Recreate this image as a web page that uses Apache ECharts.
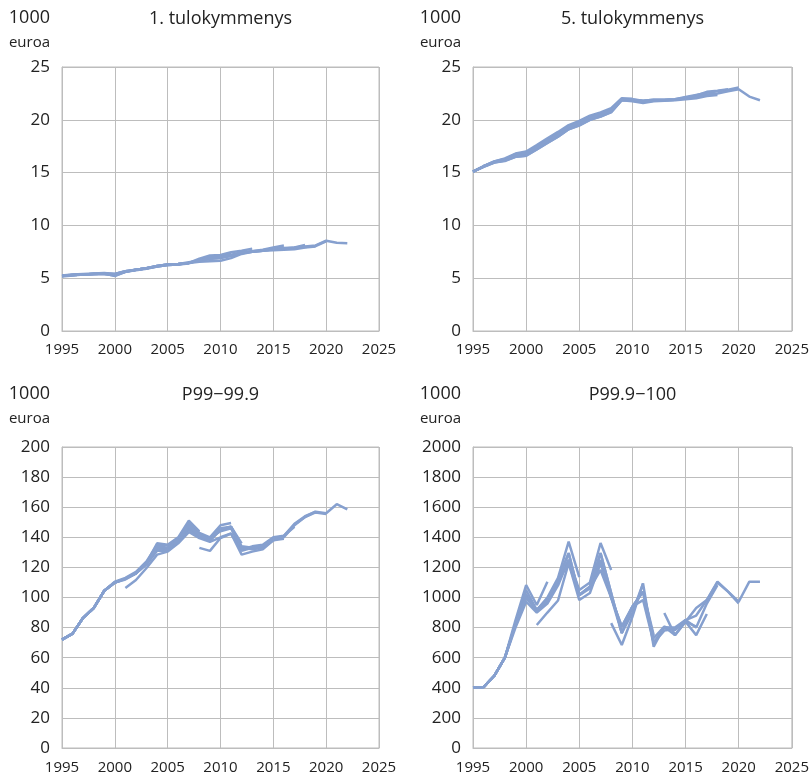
<!DOCTYPE html>
<html>
<head>
<meta charset="utf-8">
<script src="https://cdn.jsdelivr.net/npm/echarts@6/dist/echarts.min.js"></script>
<style>
  html, body { margin: 0; padding: 0; background: #fff; }
  #chart { width: 812px; height: 776px; }
</style>
</head>
<body>
<div id="chart"></div>
<script>
  // each panel: vintages of the same statistic, start year + yearly values
  const panelTitles = ['1. tulokymmenys', '5. tulokymmenys', 'P99\u221299.9', 'P99.9\u2212100'];
  const xTicks = [1995, 2000, 2005, 2010, 2015, 2020, 2025];
  const yMax = [25, 25, 200, 2000];
  const yStep = [5, 5, 20, 200];

  const decile1Starts = [1995, 1995, 1995, 1995, 1995, 1995, 1995];
  const decile1Values = [
    [5.2, 5.3, 5.35, 5.4, 5.4, 5.35, 5.6, 5.8, 5.95, 6.15, 6.3, 6.35, 6.45, 6.75, 7.05, 7.15, 7.35],
    [5.15, 5.25, 5.35, 5.4, 5.4, 5.25, 5.6, 5.8, 5.95, 6.1, 6.25, 6.3, 6.45, 6.85, 7.15, 7.2, 7.45, 7.6, 7.8],
    [5.2, 5.3, 5.35, 5.4, 5.45, 5.2, 5.6, 5.75, 5.9, 6.1, 6.25, 6.3, 6.4, 6.75, 7.0, 6.95, 7.2, 7.4, 7.55, 7.7, 7.9, 8.1],
    [5.25, 5.35, 5.4, 5.45, 5.5, 5.4, 5.65, 5.8, 5.95, 6.15, 6.3, 6.35, 6.5, 6.65, 6.85, 6.9, 7.1, 7.35, 7.5, 7.6, 7.75, 7.8, 7.9, 8.15],
    [5.25, 5.3, 5.35, 5.4, 5.45, 5.4, 5.65, 5.8, 5.95, 6.15, 6.3, 6.35, 6.45, 6.55, 6.6, 6.65, 6.9, 7.3, 7.5, 7.6, 7.65, 7.7, 7.75, 7.9, 8.0],
    [5.2, 5.3, 5.35, 5.4, 5.4, 5.35, 5.6, 5.8, 5.95, 6.1, 6.25, 6.3, 6.45, 6.65, 6.85, 6.95, 7.15, 7.4, 7.5, 7.6, 7.75, 7.8, 7.85, 7.95, 8.05, 8.5],
    [5.25, 5.3, 5.35, 5.4, 5.45, 5.4, 5.65, 5.8, 5.95, 6.15, 6.3, 6.35, 6.45, 6.7, 6.9, 7.0, 7.2, 7.45, 7.55, 7.65, 7.8, 7.85, 7.9, 8.0, 8.1, 8.55, 8.35, 8.3]
  ];

  const decile5Starts = [1995, 1995, 1995, 1995, 1995, 1995, 1995];
  const decile5Values = [
    [15.1, 15.6, 16.05, 16.35, 16.8, 17.0, 17.6, 18.25, 18.85, 19.5, 19.9, 20.4, 20.7, 21.1, 22.05, 22.0],
    [15.1, 15.55, 15.95, 16.15, 16.5, 16.6, 17.2, 17.8, 18.4, 19.1, 19.5, 20.0, 20.3, 20.7, 21.85, 21.75, 21.6, 21.75, 21.8],
    [15.1, 15.6, 16.0, 16.25, 16.75, 16.85, 17.45, 18.05, 18.65, 19.35, 19.75, 20.25, 20.55, 20.95, 21.95, 21.95, 21.8, 21.9, 21.9, 21.95, 22.1, 22.25],
    [15.1, 15.55, 15.95, 16.1, 16.5, 16.6, 17.2, 17.8, 18.4, 19.1, 19.45, 20.0, 20.3, 20.75, 21.85, 21.8, 21.7, 21.8, 21.8, 21.85, 21.95, 22.05, 22.25, 22.35],
    [15.1, 15.6, 16.0, 16.2, 16.6, 16.8, 17.4, 18.0, 18.6, 19.3, 19.7, 20.2, 20.5, 20.9, 21.95, 21.85, 21.7, 21.85, 21.85, 21.9, 22.1, 22.3, 22.65, 22.75, 22.9],
    [15.1, 15.6, 16.05, 16.3, 16.7, 16.9, 17.5, 18.1, 18.7, 19.4, 19.8, 20.3, 20.6, 21.0, 21.95, 21.9, 21.8, 21.9, 21.9, 21.95, 22.15, 22.35, 22.55, 22.7, 22.85, 23.05],
    [15.1, 15.6, 16.0, 16.2, 16.6, 16.8, 17.4, 18.0, 18.6, 19.3, 19.7, 20.2, 20.5, 20.9, 21.95, 21.9, 21.75, 21.85, 21.85, 21.9, 22.05, 22.2, 22.4, 22.5, 22.7, 22.9, 22.2, 21.85]
  ];

  const p99Starts = [1995, 1995, 1995, 2001, 2008, 1995, 1995, 1995, 1995];
  const p99Values = [
    [72, 76, 86.5, 93, 104.5, 110, 112.5, 116.5, 123, 136, 135, 140, 151, 144],
    [72, 76, 86.5, 93, 104.5, 110.5, 113, 117, 124, 135, 134.5, 139, 149, 143, 140, 148, 149.5],
    [72, 76, 86.5, 93, 104.5, 110, 112, 116, 122, 131, 131, 137, 145, 140, 138, 145, 147, 136],
    [106.3, 111.6, 119.6, 128.5, 130.5, 136, 143.5, 139.5, 137, 140, 142.5, 131, 133],
    [133, 131, 139.5, 142.5, 128.5, 130.5, 132, 138, 139],
    [72, 76, 86.5, 93, 104.5, 110, 112.5, 116, 122.5, 132, 132, 137, 146, 142, 139.5, 144, 146, 132, 134, 135, 140, 141, 147],
    [72, 76, 86.5, 93, 104.5, 110, 112.5, 116, 122.5, 133, 131, 137, 147, 141, 138, 145, 147, 133, 132, 133, 138, 141, 149, 154, 157],
    [72, 76, 86.5, 93, 104.5, 110, 112.5, 116, 122.5, 133.5, 132, 137.5, 147.5, 141.5, 138, 146, 146, 133, 133, 134, 139.5, 140.5, 148.5, 153.5, 156.5, 155.5],
    [72, 76, 86.5, 93, 104.5, 110, 112.5, 116, 122.5, 134, 133, 138, 148, 141.5, 138, 146, 147, 134, 133, 134, 139, 140, 148, 153.5, 157, 156, 162, 158.5]
  ];

  const p999Starts = [1995, 1995, 1995, 2001, 1995, 2008, 2013, 1995, 1995, 1995];
  const p999Values = [
    [400, 405, 480, 600, 850, 1083, 950, 1105],
    [400, 405, 480, 600, 830, 1050, 917, 1000, 1130, 1371, 1136],
    [400, 405, 480, 600, 820, 1020, 910, 990, 1100, 1250, 1050, 1100, 1362, 1183],
    [817, 900, 980, 1228, 983, 1030, 1228, 1000, 764, 900, 1094],
    [400, 405, 480, 600, 800, 972, 900, 960, 1080, 1250, 1016, 1072, 1250, 1000, 806, 939, 1039, 750],
    [830, 684, 872, 1094, 673, 806, 750, 839, 750, 890],
    [897, 750, 840, 806],
    [400, 405, 480, 600, 820, 1000, 917, 980, 1110, 1228, 1016, 1060, 1183, 1000, 806, 940, 983, 700, 780, 790, 850, 800, 960, 1083],
    [400, 405, 480, 600, 820, 1000, 917, 980, 1120, 1295, 1016, 1072, 1295, 1030, 764, 939, 1039, 700, 800, 800, 850, 880, 983, 1100, 1039, 960],
    [400, 405, 480, 600, 820, 1000, 917, 980, 1120, 1295, 1016, 1072, 1295, 1030, 764, 939, 1039, 730, 806, 784, 839, 930, 983, 1105, 1039, 972, 1105, 1105]
  ];

  const panelStarts = [decile1Starts, decile5Starts, p99Starts, p999Starts];
  const panelValues = [decile1Values, decile5Values, p99Values, p999Values];

  const lineColor = '#86a0cf';
  const gridColor = '#bdbdbd';
  const textColor = '#222222';
  const font = '"Open Sans", "Noto Sans", sans-serif';

  const grids = [
    {left: 62, top: 67, width: 317, height: 264},
    {left: 473, top: 67, width: 319, height: 264},
    {left: 62, top: 447, width: 317, height: 301},
    {left: 473, top: 447, width: 319, height: 301}
  ];

  const series = [];
  panelValues.forEach((vintages, p) => {
    vintages.forEach((values, k) => {
      const start = panelStarts[p][k];
      series.push({
        type: 'line',
        xAxisIndex: p,
        yAxisIndex: p,
        data: values.map((v, i) => [start + i, v]),
        showSymbol: false,
        symbol: 'none',
        lineStyle: {color: lineColor, width: 2.5},
        silent: true,
        animation: false
      });
    });
  });

  const graphics = [];
  grids.forEach((g, p) => {
    const titleY = p < 2 ? 19 : 395;
    graphics.push({
      type: 'text', x: g.left + g.width / 2, y: titleY,
      style: {text: panelTitles[p], font: '18px ' + font, fill: textColor,
        align: 'center', verticalAlign: 'middle', textAlign: 'center', textVerticalAlign: 'middle'}
    });
    graphics.push({
      type: 'text', x: g.left - 12, y: titleY - 1,
      style: {text: '1000', font: '18px ' + font, fill: textColor,
        align: 'right', verticalAlign: 'middle', textAlign: 'right', textVerticalAlign: 'middle'}
    });
    graphics.push({
      type: 'text', x: g.left - 12, y: titleY + 24,
      style: {text: 'euroa', font: '15px ' + font, fill: textColor,
        align: 'right', verticalAlign: 'middle', textAlign: 'right', textVerticalAlign: 'middle'}
    });
  });

  const option = {
    backgroundColor: '#ffffff',
    textStyle: {fontFamily: font},
    grid: grids.map(g => Object.assign({show: true, borderColor: gridColor, borderWidth: 1, containLabel: false}, g)),
    xAxis: grids.map((g, p) => ({
      type: 'value',
      gridIndex: p,
      min: xTicks[0],
      max: xTicks[xTicks.length - 1],
      interval: 5,
      axisLine: {show: true, lineStyle: {color: gridColor}},
      axisTick: {show: false},
      splitLine: {show: true, lineStyle: {color: gridColor, width: 1}},
      axisLabel: {
        color: textColor, fontSize: 15, fontFamily: font, margin: p < 2 ? 11 : 12,
        formatter: v => String(v)
      }
    })),
    yAxis: grids.map((g, p) => ({
      type: 'value',
      gridIndex: p,
      min: 0,
      max: yMax[p],
      interval: yStep[p],
      axisLine: {show: true, lineStyle: {color: gridColor}},
      axisTick: {show: false},
      splitLine: {show: true, lineStyle: {color: gridColor, width: 1}},
      axisLabel: {
        color: textColor, fontSize: 17, fontFamily: font, margin: 12,
        formatter: v => String(v)
      }
    })),
    graphic: graphics,
    series: series
  };

  const chart = echarts.init(document.getElementById('chart'), null, {renderer: 'canvas'});
  chart.setOption(option);
</script>
</body>
</html>
